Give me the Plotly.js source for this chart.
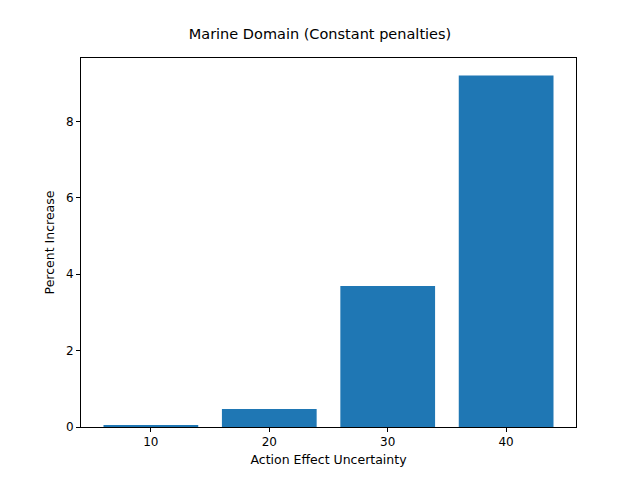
<!DOCTYPE html>
<html>
<head>
<script src="https://cdn.plot.ly/plotly-3.0.1.min.js"></script>
<style>body{margin:0}</style>
</head>
<body>
<div id="chart" style="width:640px;height:480px"></div>
<script>
// Percent increase per action effect uncertainty level
const uncertainty = [10, 20, 30, 40];
const percentIncrease = [0.05, 0.47, 3.69, 9.2];

const trace = {
  type: 'bar', x: uncertainty, y: percentIncrease, width: 8,
  marker: { color: '#1f77b4' }
};

const axisStyle = {
  showline: true, mirror: true, linecolor: '#000', linewidth: 1,
  ticks: 'outside', ticklen: 4, tickcolor: '#000', showgrid: false, zeroline: false,
  tickfont: { family: 'DejaVu Sans', size: 12, color: '#000' }
};

const layout = {
  width: 640, height: 480,
  margin: { t: 58, r: 64, b: 53, l: 81 },
  paper_bgcolor: '#fff', plot_bgcolor: '#fff',
  title: { text: 'Marine Domain (Constant penalties)', x: 0.5, y: 0.93, yanchor: 'middle',
    font: { family: 'DejaVu Sans', size: 14.5, color: '#000' } },
  xaxis: Object.assign({}, axisStyle, {
    range: [4.1, 45.9], tickvals: uncertainty,
    title: { text: 'Action Effect Uncertainty', standoff: 6, font: { family: 'DejaVu Sans', size: 12.5, color: '#000' } }
  }),
  yaxis: Object.assign({}, axisStyle, {
    range: [0, 9.66], tickvals: [0, 2, 4, 6, 8],
    title: { text: 'Percent Increase', standoff: 8, font: { family: 'DejaVu Sans', size: 12.5, color: '#000' } }
  }),
  showlegend: false
};

Plotly.newPlot('chart', [trace], layout, { displayModeBar: false });
</script>
</body>
</html>
